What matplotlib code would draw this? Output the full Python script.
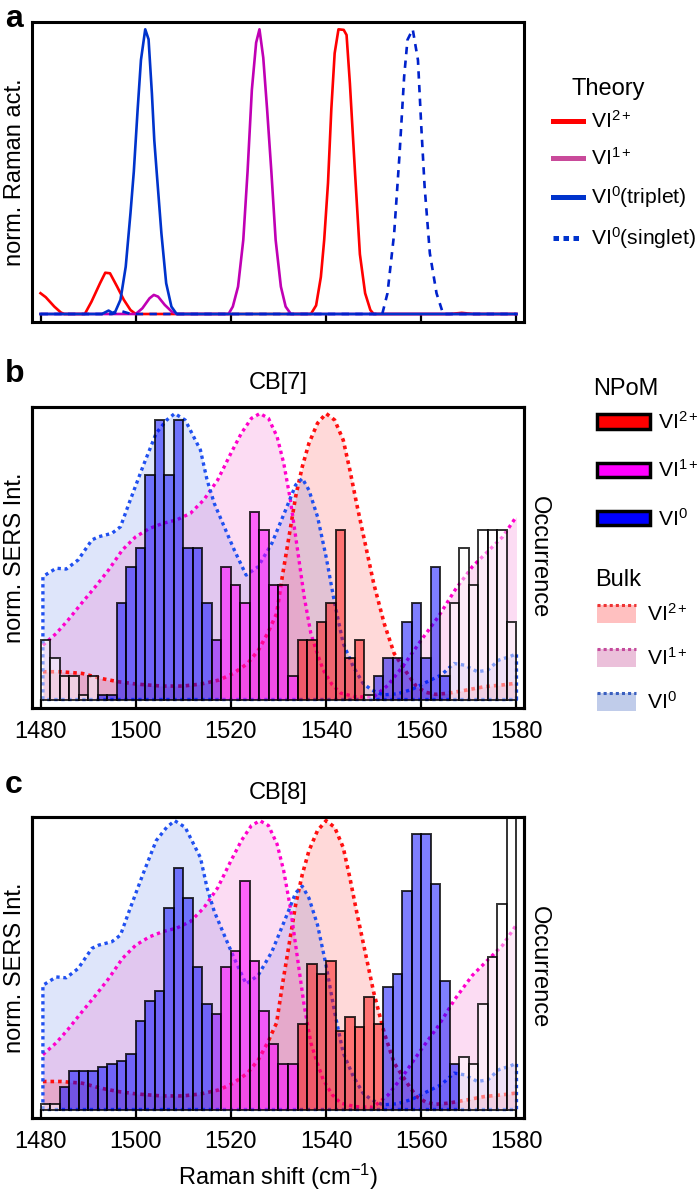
import numpy as np
import matplotlib
matplotlib.use('Agg')
import matplotlib.pyplot as plt
from matplotlib.lines import Line2D
from matplotlib.patches import Patch, Rectangle
from matplotlib.legend_handler import HandlerBase

plt.rcParams['font.family'] = ['Liberation Sans', 'DejaVu Sans']
plt.rcParams['mathtext.fontset'] = 'custom'
plt.rcParams['mathtext.rm'] = 'Liberation Sans'
plt.rcParams['mathtext.it'] = 'Liberation Sans:italic'
plt.rcParams['mathtext.bf'] = 'Liberation Sans:bold'

# ---------------- data ----------------
raman_ticks = [1480, 1500, 1520, 1540, 1560, 1580]

# (a) theory, normalised Raman activity
t_red_x = [1480, 1481.1, 1482.9, 1484.3, 1485, 1489.3, 1490.7, 1492.5, 1493.6, 1494.6, 1496.1,
           1497.5, 1498.9, 1500, 1536.8, 1537.9, 1538.9, 1539.6, 1540.4, 1541.1, 1541.8, 1542.6,
           1543.7, 1544.3, 1545.0, 1546.1, 1547.1, 1548.2, 1549.3, 1550.0, 1566.0, 1568.5, 1571.0, 1580]
t_red_y = [0.073, 0.059, 0.026, 0.005, 0, 0, 0.043, 0.108, 0.145, 0.143, 0.096,
           0.05, 0.014, 0, 0, 0.03, 0.13, 0.26, 0.46, 0.72, 0.916, 1.0,
           0.998, 0.98, 0.81, 0.49, 0.21, 0.073, 0.014, 0, 0, 0.004, 0, 0]

t_mag_x = [1480, 1500, 1501.4, 1502.9, 1503.8, 1504.7, 1506.1, 1507.6, 1508.6, 1519.5, 1520.4,
           1521.5, 1522.6, 1523.5, 1524.4, 1525.3, 1526.0, 1526.8, 1527.6, 1528.5, 1529.4,
           1530.5, 1531.5, 1532.6, 1580]
t_mag_y = [0, 0, 0.02, 0.055, 0.067, 0.061, 0.032, 0.008, 0, 0, 0.026,
           0.096, 0.26, 0.5, 0.787, 0.953, 1.0, 0.9, 0.72, 0.5, 0.26,
           0.096, 0.026, 0, 0]

t_trip_x = [1480, 1492.9, 1494.3, 1495.1, 1495.7, 1496.8, 1497.9, 1498.9, 1499.6, 1500.4, 1501.1,
            1502.0, 1502.7, 1503.4, 1503.9, 1504.4, 1505.4, 1506.4, 1507.5, 1508.6, 1580]
t_trip_y = [0, 0, 0.012, 0.004, 0.008, 0.05, 0.166, 0.354, 0.5, 0.717, 0.892,
            1.0, 0.965, 0.775, 0.611, 0.5, 0.283, 0.108, 0.026, 0, 0]

t_sing_x = [1480, 1495, 1497, 1499, 1551.8, 1552.9, 1554.3, 1555.4, 1556.4, 1557.1, 1558.2,
            1559.3, 1560.0, 1560.7, 1561.8, 1563.2, 1564.6, 1580]
t_sing_y = [0, 0, 0.01, 0, 0, 0.073, 0.283, 0.553, 0.834, 0.963, 1.0,
            0.892, 0.658, 0.447, 0.213, 0.073, 0, 0]

# bulk spectra (normalised SERS intensity), shared by (b) and (c)
bulk_red_x = [1480.5, 1484.3, 1488.8, 1492.6, 1496.4, 1500.1, 1505.4, 1509.9, 1513.7, 1517.5,
              1520.5, 1523.5, 1525.8, 1527.7, 1529.6, 1530.8, 1532.2, 1533.6, 1535.0, 1536.4,
              1538.2, 1540.0, 1541.8, 1543.6, 1545.0, 1546.4, 1548.2, 1550.0, 1552.2, 1554.3,
              1556.1, 1557.5, 1559.0, 1561.0, 1563.0, 1565.7, 1569.5, 1573.3, 1577.1, 1580.0]
bulk_red_y = [0.097, 0.097, 0.091, 0.074, 0.062, 0.054, 0.047, 0.047, 0.054, 0.068,
              0.091, 0.126, 0.173, 0.231, 0.30, 0.43, 0.569, 0.709, 0.814, 0.896,
              0.966, 1.0, 0.977, 0.907, 0.802, 0.686, 0.546, 0.406, 0.266, 0.161,
              0.115, 0.08, 0.045, 0.025, 0.018, 0.022, 0.033, 0.045, 0.051, 0.057]

bulk_mag_x = [1480.5, 1483.3, 1485.8, 1488.6, 1491.5, 1494.3, 1497.2, 1500.0, 1502.9, 1505.7,
              1508.6, 1511.5, 1514.3, 1517.2, 1520.0, 1522.2, 1524.3, 1526.1, 1527.9, 1529.7,
              1531.1, 1532.5, 1534.0, 1535.4, 1536.8, 1537.9, 1539.4, 1541.3, 1543.1, 1546.1,
              1549.9, 1553.0, 1556.3, 1560.0, 1563.6, 1567.1, 1570.7, 1574.3, 1577.1, 1580.0]
bulk_mag_y = [0.19, 0.231, 0.278, 0.336, 0.394, 0.453, 0.523, 0.569, 0.598, 0.616,
              0.628, 0.651, 0.698, 0.767, 0.861, 0.931, 0.983, 1.0, 0.983, 0.919,
              0.826, 0.698, 0.523, 0.359, 0.231, 0.173, 0.103, 0.051, 0.022, 0.01,
              0.008, 0.05, 0.12, 0.208, 0.29, 0.383, 0.464, 0.523, 0.569, 0.64]

bulk_blue_x = [1480.5, 1483.3, 1485.4, 1487.9, 1490.8, 1492.2, 1495.0, 1496.8, 1498.6, 1501.5,
               1504.3, 1506.5, 1508.2, 1510.4, 1513.6, 1515.0, 1516.5, 1518.6, 1520.7, 1523.2,
               1525.7, 1528.6, 1531.5, 1533.6, 1535.0, 1536.4, 1538.2, 1540.0, 1541.8, 1543.6,
               1545.7, 1547.8, 1549.6, 1552.0, 1555.0, 1558.0, 1561.0, 1564.2, 1566.9, 1569.1,
               1571.8, 1574.0, 1576.3, 1578.6, 1580.0]
bulk_blue_y = [0.43, 0.459, 0.456, 0.488, 0.558, 0.569, 0.581, 0.604, 0.686, 0.814,
               0.931, 0.977, 1.0, 0.977, 0.872, 0.767, 0.686, 0.604, 0.523, 0.435,
               0.464, 0.546, 0.663, 0.75, 0.773, 0.732, 0.639, 0.499, 0.336, 0.196,
               0.115, 0.056, 0.033, 0.016, 0.02, 0.035, 0.06, 0.086, 0.126, 0.12,
               0.097, 0.103, 0.138, 0.15, 0.16]

# NPoM histograms: 2 cm-1 bins starting at 1480
bin_start = 1480
bin_width = 2
cb7_counts = [3, 2, 1, 1, 0, 1, 0, 0, 5, 7,
              8, 12, 15, 12, 15, 8, 8, 5, 3, 7,
              6, 5, 10, 9, 6, 6, 1, 3, 3, 4,
              5, 9, 2, 3, 0, 1, 2, 2, 4, 5,
              2, 7, 1, 5, 8, 6, 9, 9, 9, 4]
cb7_species = ['n', 'n', 'n', 'n', 'n', 'n', 'b', 'b', 'b', 'b',
               'b', 'b', 'b', 'b', 'b', 'b', 'b', 'b', 'p', 'm',
               'm', 'm', 'm', 'm', 'm', 'm', 'm', 'r', 'r', 'r',
               'r', 'r', 'r', 'r', 'n', 'b', 'b', 'b', 'b', 'b',
               'b', 'b', 'b', 'n', 'n', 'n', 'n', 'n', 'n', 'n']
cb8_counts = [0, 0, 5, 10, 10, 10, 11, 12, 13, 15,
              25, 31, 34, 59, 71, 62, 41, 30, 27, 41,
              46, 67, 43, 28, 18, 12, 12, 24, 42, 39,
              43, 22, 26, 23, 32, 24, 35, 39, 64, 81,
              81, 66, 37, 12, 14, 12, 30, 44, 60, 100]
cb8_species = ['n', 'n', 'b', 'b', 'b', 'b', 'b', 'b', 'b', 'b',
               'b', 'b', 'b', 'b', 'b', 'b', 'b', 'b', 'p', 'm',
               'm', 'm', 'm', 'm', 'm', 'm', 'm', 'r', 'r', 'r',
               'r', 'r', 'r', 'r', 'r', 'r', 'b', 'b', 'b', 'b',
               'b', 'b', 'b', 'b', 'n', 'n', 'n', 'n', 'n', 'n']

# ---------------- style ----------------
W, H = 700, 1191
FS = 17
LFS = 15.2
XLIM = (1478.21, 1581.58)
bar_face = {'b': (0.0, 0.0, 1.0, 0.5), 'm': (1.0, 0.0, 1.0, 0.55), 'r': (1.0, 0.0, 0.0, 0.47),
            'p': (0.5, 0.0, 1.0, 0.55), 'n': (1.0, 1.0, 1.0, 0.45)}
DOT = (0, (1, 1.1))

fig = plt.figure(figsize=(W / 100, H / 100), dpi=100)


def add_axes_px(top, bottom, left=32, right=524):
    return fig.add_axes([left / W, 1 - bottom / H, (right - left) / W, (bottom - top) / H])


def style_frame(ax, labels=True):
    ax.set_xlim(*XLIM)
    ax.set_xticks(raman_ticks)
    ax.set_yticks([])
    ax.tick_params(axis='x', direction='in', length=6.2, width=1.6, labelsize=FS, pad=9,
                   top=False, labelbottom=labels)
    for s in ax.spines.values():
        s.set_linewidth(2.2)


# ---------- panel a ----------
axa = add_axes_px(22, 322)
axa.plot(t_red_x, t_red_y, color='#FF0000', lw=1.9, zorder=3)
axa.plot(t_mag_x, t_mag_y, color='#C000B4', lw=1.9, zorder=3)
axa.plot(t_trip_x, t_trip_y, color='#0033CC', lw=1.9, zorder=4)
axa.plot(t_sing_x, t_sing_y, color='#0022CC', lw=1.9, linestyle=(0, (2.8, 2.4)), zorder=4)
axa.set_ylim(-8 / 284.7, 292 / 284.7)
style_frame(axa, labels=False)
axa.set_ylabel('norm. Raman act.', fontsize=FS)
axa.yaxis.set_label_coords(-16.5 / 492, 0.5)
axa.yaxis.label.set_va('center')

theory_handles = [Line2D([], [], color='#FF0000', lw=3.6),
                  Line2D([], [], color='#C94A9A', lw=3.6),
                  Line2D([], [], color='#0033CC', lw=3.6),
                  Line2D([], [], color='#0033CC', lw=3.6, linestyle=(0, (1.1, 0.9)))]
theory_labels = ['VI$^{2+}$', 'VI$^{1+}$', 'VI$^{0}$(triplet)', 'VI$^{0}$(singlet)']
fig.legend(theory_handles, theory_labels, loc='upper left', bbox_to_anchor=(553 / W, 1 - 110 / H),
           frameon=False, fontsize=LFS, handlelength=1.4, handletextpad=0.42, labelspacing=0.72,
           borderpad=0, borderaxespad=0)
fig.text(572 / W, 1 - 89 / H, 'Theory', fontsize=FS, ha='left', va='center')


# ---------- panels b, c ----------
class BulkHandler(HandlerBase):
    def __init__(self, fill, line):
        super().__init__()
        self.fill = fill
        self.line = line

    def create_artists(self, legend, orig_handle, xdescent, ydescent, width, height, fontsize, trans):
        r = Rectangle((-xdescent, -ydescent), width, height, facecolor=self.fill, edgecolor='none',
                      transform=trans)
        ln = Line2D([-xdescent, -xdescent + width], [-ydescent + height] * 2, color=self.line,
                    lw=2.2, linestyle=(0, (1, 1)), transform=trans)
        return [r, ln]


def draw_panel(top, bottom, title, counts, species, unit_px, pad, scale_px):
    ax = add_axes_px(top, bottom)
    base = bottom - 8.5
    # bulk fills + dotted outlines
    ax.fill_between(bulk_blue_x, bulk_blue_y, 0, color='#003CDC', alpha=0.13, lw=0)
    ax.fill_between(bulk_mag_x, bulk_mag_y, 0, color='#F040C0', alpha=0.18, lw=0)
    ax.fill_between(bulk_red_x, bulk_red_y, 0, color='#FF0000', alpha=0.15, lw=0)
    ax.plot(bulk_red_x, bulk_red_y, color='#FF1010', lw=2.6, linestyle=DOT)
    ax.plot(bulk_mag_x, bulk_mag_y, color='#FF00CC', lw=2.4, linestyle=DOT)
    bx = [bulk_blue_x[0]] + bulk_blue_x + [bulk_blue_x[-1], bulk_blue_x[0]]
    by = [0] + bulk_blue_y + [0, 0]
    ax.plot(bx, by, color='#2050F0', lw=2.4, linestyle=DOT)
    ax.set_ylim(-(bottom - base) / scale_px, (base - top) / scale_px)
    style_frame(ax)
    ax.set_ylabel('norm. SERS Int.', fontsize=FS)
    ax.yaxis.set_label_coords(-16.5 / 492, 0.5)
    ax.yaxis.label.set_va('center')
    ax.text(0.5, 1 + 24 / (bottom - top), title, transform=ax.transAxes, ha='center', va='center',
            fontsize=FS)

    ax2 = ax.twinx()
    lefts = bin_start + bin_width * np.arange(len(counts))
    heights = np.asarray(counts, dtype=float) + pad
    ax2.bar(lefts, heights, bottom=-pad, width=bin_width, align='edge',
            color=[bar_face[s] for s in species], edgecolor=(0, 0, 0, 0.8), linewidth=1.4)
    ax2.set_ylim(-pad - 8.5 / unit_px, -pad + (base - top) / unit_px)
    ax2.set_yticks([])
    for s in ax2.spines.values():
        s.set_linewidth(2.2)
    ax2.set_ylabel('Occurrence', fontsize=FS, rotation=270)
    ax2.yaxis.set_label_coords(1 + 15 / 492, 0.5)
    ax2.yaxis.label.set_va('center')
    ax2.yaxis.label.set_ha('center')
    return ax


axb = draw_panel(407, 708, 'CB[7]', cb7_counts, cb7_species, 18.3, 0.26, 286.0)
axc = draw_panel(817, 1118, 'CB[8]', cb8_counts, cb8_species, 3.33, 1.65, 288.8)
axc.set_xlabel('Raman shift (cm$^{-1}$)', fontsize=FS)
axc.xaxis.set_label_coords(0.5, -59 / 301)
axc.xaxis.label.set_va('center')

npom_handles = [Patch(facecolor='#FF0000', edgecolor='black', lw=2.5),
                Patch(facecolor='#FF00FF', edgecolor='black', lw=2.5),
                Patch(facecolor='#0000FF', edgecolor='black', lw=2.5)]
npom_labels = ['VI$^{2+}$', 'VI$^{1+}$', 'VI$^{0}$']
fig.legend(npom_handles, npom_labels, loc='upper left', bbox_to_anchor=(597 / W, 1 - 411 / H),
           frameon=False, fontsize=LFS, handlelength=2.5, handleheight=0.65, handletextpad=0.4,
           labelspacing=1.25, borderpad=0, borderaxespad=0)
fig.text(593 / W, 1 - 389 / H, 'NPoM', fontsize=FS, ha='left', va='center')

bulk_handles = [Patch(), Patch(), Patch()]
bulk_labels = ['VI$^{2+}$', 'VI$^{1+}$', 'VI$^{0}$']
bulk_map = {bulk_handles[0]: BulkHandler('#FFC0C0', '#EE3333'),
            bulk_handles[1]: BulkHandler('#EBC0DA', '#C44A9C'),
            bulk_handles[2]: BulkHandler('#C0CCEA', '#3A5FBF')}
fig.legend(bulk_handles, bulk_labels, loc='upper left', bbox_to_anchor=(597 / W, 1 - 603 / H),
           frameon=False, fontsize=LFS, handlelength=1.85, handleheight=0.95, handletextpad=0.5,
           labelspacing=1.05, borderpad=0, borderaxespad=0, handler_map=bulk_map)
fig.text(595 / W, 1 - 580 / H, 'Bulk', fontsize=FS, ha='left', va='center')

for letter, yb in (('a', 27), ('b', 382), ('c', 793)):
    fig.text(5 / W, 1 - yb / H, letter, fontsize=23, fontweight='bold', ha='left', va='baseline')

fig.savefig('out.png', dpi=100)
